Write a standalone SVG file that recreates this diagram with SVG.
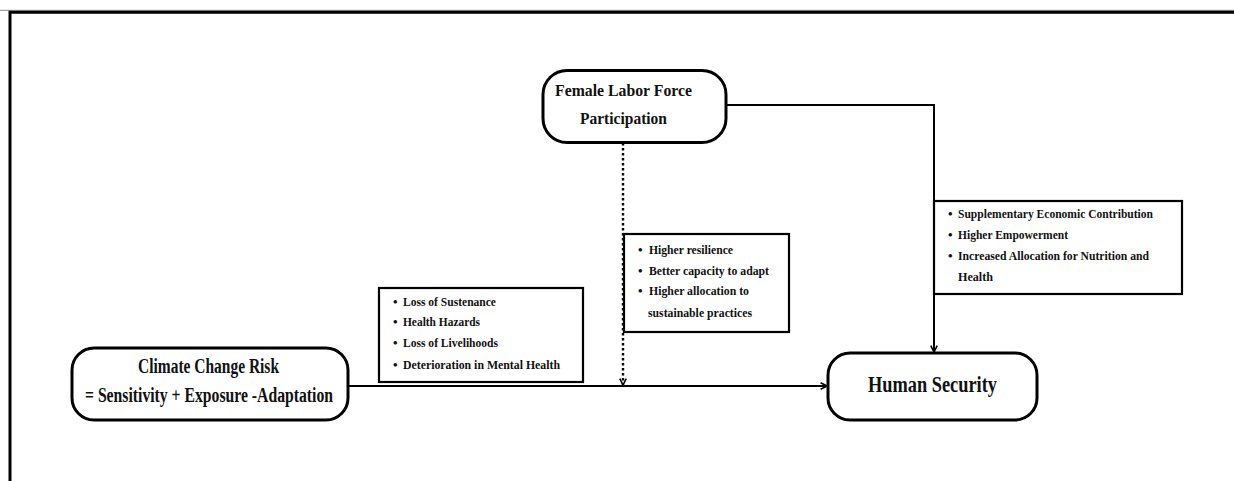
<svg xmlns="http://www.w3.org/2000/svg" width="1234" height="481" viewBox="0 0 1234 481">
<style>
text{font-family:"Liberation Serif","Times New Roman",serif;font-weight:bold;fill:#111}
.node{fill:#fff;stroke:#000;stroke-width:3}
.box{fill:#fff;stroke:#000;stroke-width:2.2}
.conn{fill:none;stroke:#000;stroke-width:2}
.dot{fill:none;stroke:#000;stroke-width:2.4;stroke-dasharray:2.5 2.5}
.b{font-size:13px}
</style>
<defs>
<marker id="arr" viewBox="0 0 10 10" refX="9" refY="5" markerWidth="8" markerHeight="8" markerUnits="userSpaceOnUse" orient="auto">
<path d="M1,1 L9,5 L1,9" fill="none" stroke="#000" stroke-width="2"/>
</marker>
</defs>
<rect width="1234" height="481" fill="#fff"/>
<line x1="0" y1="10.3" x2="1234" y2="10.3" stroke="#888" stroke-width="1"/>
<path d="M10,481 V12.3 H1240" fill="none" stroke="#000" stroke-width="3"/>

<g id="connectors">
<line class="conn" x1="348" y1="386" x2="827" y2="386" marker-end="url(#arr)"/>
<path class="conn" d="M726,105 H934 V352" marker-end="url(#arr)"/>
<line class="dot" x1="623" y1="143" x2="623" y2="385" marker-end="url(#arr)"/>
</g>

<g id="female">
<rect class="node" x="543" y="70.5" width="183" height="72" rx="24"/>
<text x="555" y="96" font-size="17.5" textLength="137" lengthAdjust="spacingAndGlyphs">Female Labor Force</text>
<text x="580" y="124" font-size="17.5" textLength="87" lengthAdjust="spacingAndGlyphs">Participation</text>
</g>

<g id="climate">
<rect class="node" x="72" y="348" width="276" height="72" rx="22"/>
<text x="138" y="373" font-size="20" textLength="141" lengthAdjust="spacingAndGlyphs">Climate Change Risk</text>
<text x="85" y="402" font-size="20" textLength="248" lengthAdjust="spacingAndGlyphs">= Sensitivity + Exposure -Adaptation</text>
</g>

<g id="human">
<rect class="node" x="828" y="353" width="209" height="67" rx="22"/>
<text x="868" y="392" font-size="24" textLength="129" lengthAdjust="spacingAndGlyphs">Human Security</text>
</g>

<g id="impacts">
<rect class="box" x="379" y="288" width="204" height="94"/>
<text class="b" x="393" y="306">•</text><text class="b" x="403" y="306" textLength="93" lengthAdjust="spacingAndGlyphs">Loss of Sustenance</text>
<text class="b" x="393" y="326">•</text><text class="b" x="403" y="326" textLength="77" lengthAdjust="spacingAndGlyphs">Health Hazards</text>
<text class="b" x="393" y="347">•</text><text class="b" x="403" y="347" textLength="95" lengthAdjust="spacingAndGlyphs">Loss of Livelihoods</text>
<text class="b" x="393" y="369">•</text><text class="b" x="403" y="369" textLength="157" lengthAdjust="spacingAndGlyphs">Deterioration in Mental Health</text>
</g>

<g id="moderation">
<rect class="box" x="624" y="234" width="165" height="98"/>
<text class="b" x="638" y="254">•</text><text class="b" x="649" y="254" textLength="84" lengthAdjust="spacingAndGlyphs">Higher resilience</text>
<text class="b" x="638" y="275">•</text><text class="b" x="649" y="275" textLength="120" lengthAdjust="spacingAndGlyphs">Better capacity to adapt</text>
<text class="b" x="638" y="295">•</text><text class="b" x="649" y="295" textLength="100" lengthAdjust="spacingAndGlyphs">Higher allocation to</text>
<text class="b" x="648" y="317" textLength="104" lengthAdjust="spacingAndGlyphs">sustainable practices</text>
</g>

<g id="contributions">
<rect class="box" x="934" y="201" width="248" height="93"/>
<text class="b" x="948" y="218">•</text><text class="b" x="958" y="218" textLength="195" lengthAdjust="spacingAndGlyphs">Supplementary Economic Contribution</text>
<text class="b" x="948" y="239">•</text><text class="b" x="958" y="239" textLength="110" lengthAdjust="spacingAndGlyphs">Higher Empowerment</text>
<text class="b" x="948" y="260">•</text><text class="b" x="958" y="260" textLength="191" lengthAdjust="spacingAndGlyphs">Increased Allocation for Nutrition and</text>
<text class="b" x="958" y="281" textLength="35" lengthAdjust="spacingAndGlyphs">Health</text>
</g>
</svg>
